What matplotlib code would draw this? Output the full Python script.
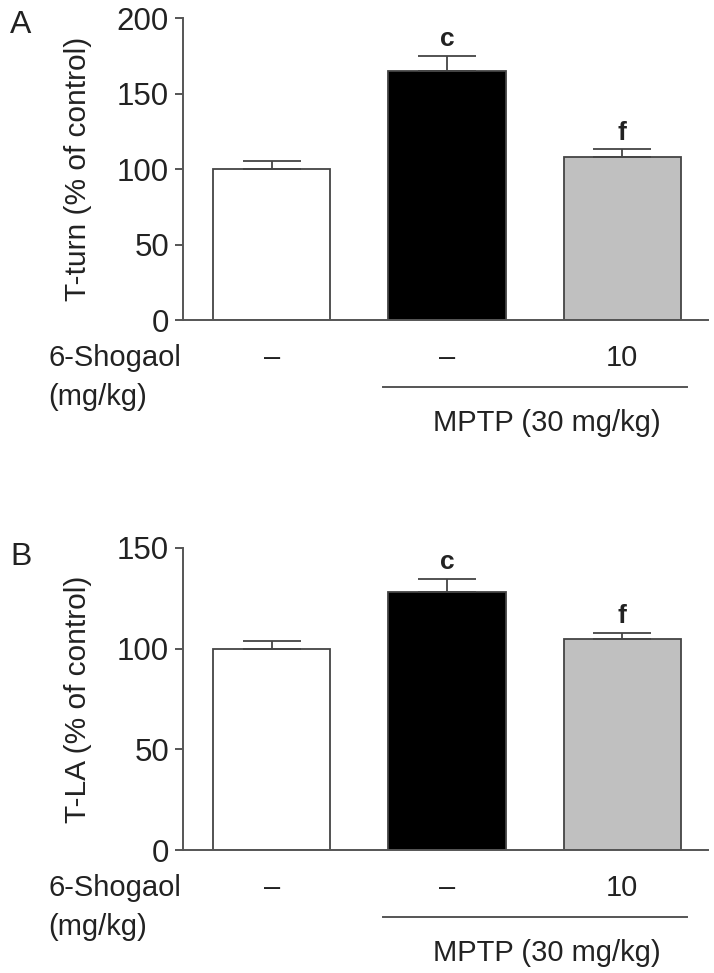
import matplotlib
matplotlib.use("Agg")
import matplotlib.pyplot as plt
from matplotlib.transforms import blended_transform_factory
import numpy as np

plt.rcParams['font.family'] = ['Liberation Sans', 'DejaVu Sans']

# ---- data ----
groups = ['Control', 'MPTP', 'MPTP + 6-Shogaol']
shogaol_doses = ['–', '–', '10']
bar_colors = ['white', 'black', '#c0c0c0']
sig_letters = ['', 'c', 'f']

t_turn_mean = [100, 165, 108]
t_turn_sem = [5, 10, 5]

t_la_mean = [100, 128, 105]
t_la_sem = [4, 6.5, 3]

panels = [
    dict(tag='A', ylabel='T-turn (% of control)', mean=t_turn_mean, sem=t_turn_sem,
         ymax=200, yticks=[0, 50, 100, 150, 200], rect=[0.2563, 0.6711, 0.7353, 0.3104],
         tag_y=0.974),
    dict(tag='B', ylabel='T-LA (% of control)', mean=t_la_mean, sem=t_la_sem,
         ymax=150, yticks=[0, 50, 100, 150], rect=[0.2563, 0.1264, 0.7353, 0.3104],
         tag_y=0.428),
]

fig = plt.figure(figsize=(7.14, 9.73), dpi=100)
edge = '#444444'
fs = 21

for p in panels:
    ax = fig.add_axes(p['rect'])
    x = np.arange(len(groups))
    ax.bar(x, p['mean'], width=0.67, color=bar_colors, edgecolor=edge, linewidth=1.3, zorder=2)
    ax.errorbar(x, p['mean'], yerr=[np.zeros(len(x)), p['sem']], fmt='none',
                ecolor=edge, elinewidth=1.3, capsize=21, capthick=1.3, zorder=3)
    for xi, m, s, lab in zip(x, p['mean'], p['sem'], sig_letters):
        if lab:
            ax.annotate(lab, (xi, m + s), xytext=(0, 7), textcoords='offset points',
                        ha='center', va='baseline', fontsize=19, fontweight='bold', color='#222222')
    ax.set_xlim(-0.506, 2.489)
    ax.set_ylim(0, p['ymax'])
    ax.set_yticks(p['yticks'])
    ax.set_xticks([])
    for sp in ['top', 'right']:
        ax.spines[sp].set_visible(False)
    for sp in ['left', 'bottom']:
        ax.spines[sp].set_color('#555555')
        ax.spines[sp].set_linewidth(1.4)
    ax.tick_params(axis='y', length=6, width=1.4, color='#555555', labelsize=22.5, pad=4,
                   labelcolor='#222222')
    ax.set_ylabel(p['ylabel'], fontsize=21.5, color='#222222', labelpad=18)

    # treatment table below
    tr = blended_transform_factory(ax.transData, ax.transAxes)
    ax.text(-0.257, -0.127, '6-Shogaol', transform=ax.transAxes, ha='left', va='center',
            fontsize=fs, color='#222222')
    ax.text(-0.257, -0.255, '(mg/kg)', transform=ax.transAxes, ha='left', va='center',
            fontsize=fs, color='#222222')
    for xi, d in zip(x, shogaol_doses):
        ax.text(xi, -0.127, d, transform=tr, ha='center', va='center', fontsize=fs, color='#222222')
    ax.plot([0.637, 2.369], [-0.222, -0.222], transform=tr, color='#555555', lw=1.4, clip_on=False)
    ax.text(1.57, -0.34, 'MPTP (30 mg/kg)', transform=tr, ha='center', va='center',
            fontsize=fs, color='#222222')

    # panel tag
    fig.text(0.014, p['tag_y'], p['tag'], fontsize=23, ha='left', va='center', color='#222222')

fig.savefig('out.png', dpi=100)
